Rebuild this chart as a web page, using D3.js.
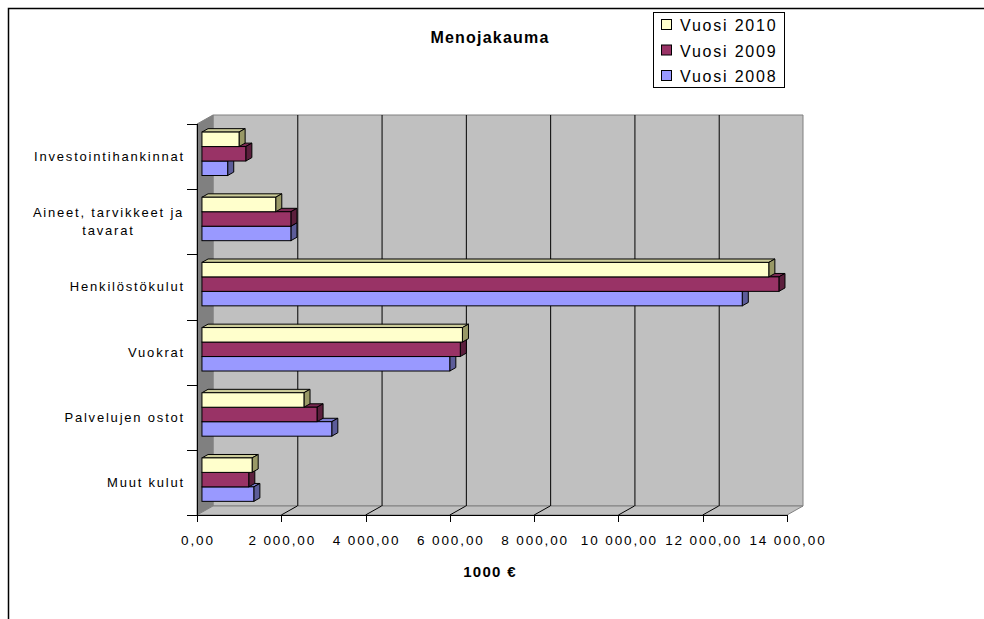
<!DOCTYPE html>
<html>
<head>
<meta charset="utf-8">
<script src="https://cdn.jsdelivr.net/npm/d3@7"></script>
<style>
  body { margin: 0; background: #fff; }
  text { font-family: "Liberation Sans", Arial, sans-serif; fill: #000; }
</style>
</head>
<body>
<div id="viz"></div>
<script>
// Data
const categories = ["Investointihankinnat", "Aineet, tarvikkeet ja\ntavarat", "Henkilöstökulut", "Vuokrat", "Palvelujen ostot", "Muut kulut"];
const seriesNames = ["Vuosi 2010", "Vuosi 2009", "Vuosi 2008"];
const values2010 = [880, 1750, 13450, 6180, 2420, 1190];
const values2009 = [1040, 2110, 13690, 6130, 2730, 1110];
const values2008 = [610, 2110, 12820, 5880, 3080, 1230];
const xTicks = [0, 2000, 4000, 6000, 8000, 10000, 12000, 14000];
const chartTitle = "Menojakauma";
const xLabel = "1000 €";

// Colours: front, top, side
const colors = [
  {front: "#FFFFCC", top: "#CCCC99", side: "#999966"},
  {front: "#993366", top: "#7A2952", side: "#5C1F3D"},
  {front: "#9999FF", top: "#7A7ACC", side: "#5C5C99"}
];

// Geometry
const width = 984, height = 619;
const depthX = 16, depthY = 9;      // 3D depth of the plot
const barZ = 0.31, barDepth = 0.38; // bar position inside the depth
const plotLeft = 197, plotRight = 787, plotTop = 124, plotBottom = 515;

const svg = d3.select("#viz").append("svg")
  .attr("width", width).attr("height", height);

svg.append("rect").attr("width", width).attr("height", height).attr("fill", "#fff");

// outer chart border (only left & top visible)
svg.append("path")
  .attr("d", `M8.5,${height} L8.5,8.5 L${width},8.5`)
  .attr("fill", "none").attr("stroke", "#000").attr("stroke-width", 1.5);

const xScale = d3.scaleLinear().domain([0, 14000]).range([plotLeft, plotRight]);
const yScale = d3.scaleBand().domain(categories).range([plotTop, plotBottom]);

// walls
const bx = x => x + depthX, by = y => y - depthY;
svg.append("polygon") // back wall
  .attr("points", [[bx(plotLeft), by(plotTop)], [bx(plotRight), by(plotTop)], [bx(plotRight), by(plotBottom)], [bx(plotLeft), by(plotBottom)]].join(" "))
  .attr("fill", "#C0C0C0").attr("stroke", "#808080");
svg.append("polygon") // left wall
  .attr("points", [[plotLeft, plotTop], [bx(plotLeft), by(plotTop)], [bx(plotLeft), by(plotBottom)], [plotLeft, plotBottom]].join(" "))
  .attr("fill", "#808080").attr("stroke", "#808080");
svg.append("polygon") // floor
  .attr("points", [[plotLeft, plotBottom], [bx(plotLeft), by(plotBottom)], [bx(plotRight), by(plotBottom)], [plotRight, plotBottom]].join(" "))
  .attr("fill", "#C0C0C0").attr("stroke", "#808080");

// gridlines
const inner = xTicks.slice(1, -1);
svg.selectAll(".grid-back").data(inner).enter().append("line")
  .attr("x1", d => bx(xScale(d)) + 0.5).attr("x2", d => bx(xScale(d)) + 0.5)
  .attr("y1", by(plotTop)).attr("y2", by(plotBottom))
  .attr("stroke", "#000").attr("stroke-width", 1);
svg.selectAll(".grid-floor").data(inner).enter().append("line")
  .attr("x1", d => xScale(d)).attr("x2", d => bx(xScale(d)))
  .attr("y1", plotBottom).attr("y2", by(plotBottom))
  .attr("stroke", "#000").attr("stroke-width", 1);

// axes lines
svg.append("line").attr("x1", plotLeft - 10).attr("x2", plotRight)
  .attr("y1", plotBottom + 0.5).attr("y2", plotBottom + 0.5).attr("stroke", "#000");
svg.append("line").attr("x1", plotLeft + 0.5).attr("x2", plotLeft + 0.5)
  .attr("y1", plotTop).attr("y2", plotBottom).attr("stroke", "#000");

// x ticks + labels
svg.selectAll(".xtick").data(xTicks).enter().append("line")
  .attr("x1", d => Math.round(xScale(d)) + 0.5).attr("x2", d => Math.round(xScale(d)) + 0.5)
  .attr("y1", plotBottom).attr("y2", plotBottom + 7).attr("stroke", "#000");
const fmt = d => d3.format(",.2f")(d).replace(/,/g, " ").replace(".", ",");
svg.selectAll(".xlabel").data(xTicks).enter().append("text")
  .attr("x", d => xScale(d) + 1).attr("y", 545)
  .attr("text-anchor", "middle").style("font-size", "13.5px").style("letter-spacing", "1.9px")
  .text(fmt);

// y ticks (band boundaries)
const bounds = categories.map(c => yScale(c)).concat([plotBottom]);
svg.selectAll(".ytick").data(bounds).enter().append("line")
  .attr("x1", plotLeft - 10).attr("x2", plotLeft)
  .attr("y1", d => Math.round(d) + 0.5).attr("y2", d => Math.round(d) + 0.5).attr("stroke", "#000");

// category labels
categories.forEach(c => {
  const lines = c.split("\n");
  const cy = yScale(c) + yScale.bandwidth() / 2;
  const t = svg.append("text").style("font-size", "13px").style("letter-spacing", "1.8px")
    .attr("text-anchor", lines.length > 1 ? "middle" : "end");
  lines.forEach((l, i) => {
    t.append("tspan")
      .attr("x", lines.length > 1 ? 108.5 : 185)
      .attr("y", cy + 4.5 + (i - (lines.length - 1) / 2) * 18)
      .text(l);
  });
});

// bars
const seriesValues = [values2010, values2009, values2008];
const barH = yScale.bandwidth() / 4.5;
const zx = depthX * barZ, zy = depthY * barZ;
const dx = depthX * barDepth, dy = depthY * barDepth;
const barOffset = (yScale.bandwidth() - 3 * barH) / 2;

for (let s = 2; s >= 0; s--) {
  const col = colors[s];
  const g = svg.append("g");
  categories.forEach((c, i) => {
    const v = seriesValues[s][i];
    const x0 = xScale(0) + zx, x1 = xScale(v) + zx;
    const yt = yScale(c) + barOffset + s * barH - zy, yb = yt + barH;
    g.append("polygon")
      .attr("points", [[x0, yt], [x0 + dx, yt - dy], [x1 + dx, yt - dy], [x1, yt]].join(" "))
      .attr("fill", col.top).attr("stroke", "#000").attr("stroke-linejoin", "round");
    g.append("polygon")
      .attr("points", [[x1, yt], [x1 + dx, yt - dy], [x1 + dx, yb - dy], [x1, yb]].join(" "))
      .attr("fill", col.side).attr("stroke", "#000").attr("stroke-linejoin", "round");
    g.append("rect")
      .attr("x", x0).attr("y", yt).attr("width", x1 - x0).attr("height", barH)
      .attr("fill", col.front).attr("stroke", "#000");
  });
}

// title
svg.append("text").attr("x", 490).attr("y", 43).attr("text-anchor", "middle")
  .style("font-size", "16px").style("font-weight", "bold").style("letter-spacing", "1.2px")
  .text(chartTitle);

// x axis title
svg.append("text").attr("x", 490).attr("y", 577).attr("text-anchor", "middle")
  .style("font-size", "15px").style("font-weight", "bold").style("letter-spacing", "1.3px")
  .text(xLabel);

// legend
const legend = svg.append("g");
legend.append("rect").attr("x", 653.5).attr("y", 12.5).attr("width", 131).attr("height", 75)
  .attr("fill", "#fff").attr("stroke", "#000");
seriesNames.forEach((n, i) => {
  const y = 25 + i * 25.5;
  legend.append("rect").attr("x", 661.5).attr("y", y - 5.5).attr("width", 10).attr("height", 10)
    .attr("fill", colors[i].front).attr("stroke", "#000");
  legend.append("text").attr("x", 680).attr("y", y + 6)
    .style("font-size", "16px").style("letter-spacing", "1.8px").text(n);
});
</script>
</body>
</html>
